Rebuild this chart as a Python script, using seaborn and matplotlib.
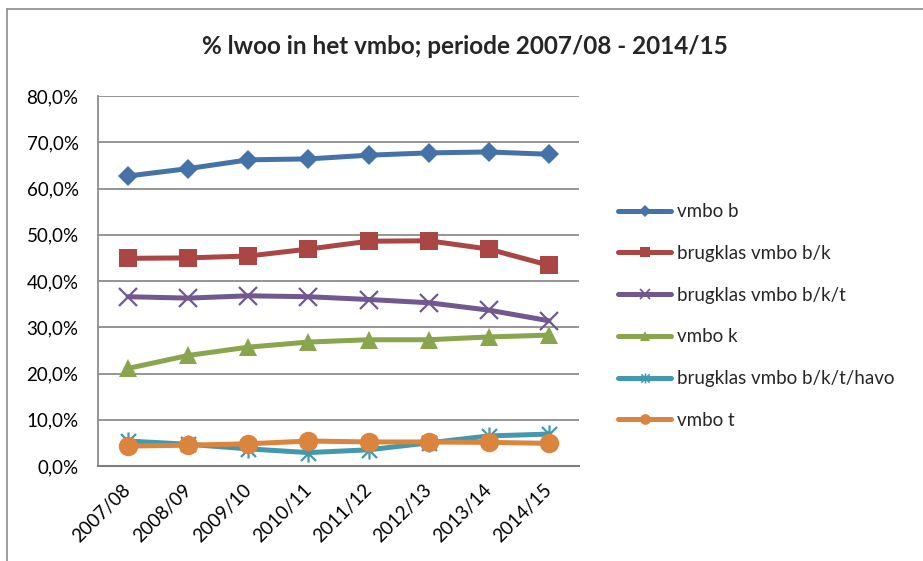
import matplotlib
matplotlib.use("Agg")
import matplotlib.pyplot as plt
from matplotlib.path import Path
from matplotlib.lines import Line2D
from matplotlib.ticker import FuncFormatter
import seaborn as sns
import pandas as pd

years = ["2007/08", "2008/09", "2009/10", "2010/11", "2011/12", "2012/13", "2013/14", "2014/15"]
vmbo_b = [62.7, 64.3, 66.2, 66.4, 67.2, 67.7, 67.9, 67.4]
brug_bk = [44.9, 45.0, 45.4, 46.9, 48.6, 48.7, 46.9, 43.4]
brug_bkt = [36.6, 36.3, 36.8, 36.6, 36.0, 35.3, 33.7, 31.4]
vmbo_k = [21.1, 23.9, 25.7, 26.8, 27.3, 27.3, 27.9, 28.3]
brug_bkth = [5.4, 4.7, 3.7, 2.9, 3.5, 5.0, 6.5, 6.9]
vmbo_t = [4.3, 4.5, 4.8, 5.4, 5.2, 5.2, 5.1, 4.9]
series_names = ["vmbo b", "brugklas vmbo b/k", "brugklas vmbo b/k/t", "vmbo k",
                "brugklas vmbo b/k/t/havo", "vmbo t"]
series_values = [vmbo_b, brug_bk, brug_bkt, vmbo_k, brug_bkth, vmbo_t]
y_ticks = [0, 10, 20, 30, 40, 50, 60, 70, 80]

colors = ["#4572A7", "#AA4643", "#71588F", "#89A54E", "#4198AF", "#DB843D"]
star = Path([(-1, -1), (1, 1), (-1, 1), (1, -1), (0, -1.2), (0, 1.2)],
            [Path.MOVETO, Path.LINETO, Path.MOVETO, Path.LINETO, Path.MOVETO, Path.LINETO])
markers = ["D", "s", "x", "^", star, "o"]
msizes = [10.5, 13.5, 13, 13.5, 13, 14]
edge_marker = [False, False, True, False, True, False]

sns.set_style("white")
plt.rcParams["font.family"] = ["Lato", "DejaVu Sans"]

fig = plt.figure(figsize=(9.23, 5.61), dpi=100)
ax = fig.add_axes([98 / 923, 1 - 466 / 561, (579 - 98) / 923, (466 - 96) / 561])

grid_col = "#8C8C8C"
for yv in y_ticks[1:]:
    ax.axhline(yv, color=grid_col, lw=1.3, zorder=0)

handles = []
for name, vals, col, mk, ms, em in zip(series_names, series_values, colors, markers, msizes, edge_marker):
    df = pd.DataFrame({"jaar": years, "pct": vals})
    kw = dict(marker=mk, markersize=ms)
    if em:
        kw.update(markeredgecolor=col, markeredgewidth=1.6, markerfacecolor="none")
    else:
        kw.update(markeredgewidth=0, markerfacecolor=col)
    sns.lineplot(data=df, x="jaar", y="pct", ax=ax, color=col, lw=3.6, sort=False,
                 solid_capstyle="round", solid_joinstyle="round", **kw)
    hkw = dict(marker=mk, markersize=ms * 0.55)
    if em:
        hkw.update(markeredgecolor=col, markeredgewidth=1.2, markerfacecolor="none")
    else:
        hkw.update(markeredgewidth=0, markerfacecolor=col)
    handles.append(Line2D([], [], color=col, lw=3.6, solid_capstyle="round", **hkw))

ax.set_xlim(-0.5, 7.5)
ax.set_ylim(0, 80)
ax.set_yticks(y_ticks)
ax.yaxis.set_major_formatter(FuncFormatter(lambda v, p: f"{v:.1f}".replace(".", ",") + "%"))
ax.set_xlabel("")
ax.set_ylabel("")
ax.tick_params(axis="y", length=0, pad=14, labelsize=13.5, colors="#000000")
ax.tick_params(axis="x", length=0, pad=15, labelsize=13.5, colors="#000000")
for lab in ax.get_xticklabels():
    lab.set_rotation(45)
    lab.set_ha("right")
    lab.set_va("center")
    lab.set_rotation_mode("anchor")

for s in ["top", "right"]:
    ax.spines[s].set_visible(False)
ax.spines["left"].set_color(grid_col)
ax.spines["left"].set_linewidth(1.3)
ax.spines["bottom"].set_color("#7F7F7F")
ax.spines["bottom"].set_linewidth(1.5)

fig.text(465 / 923, 1 - 47 / 561, "% lwoo in het vmbo; periode 2007/08 - 2014/15",
         ha="center", va="center", fontsize=17.5, fontweight="bold")

fig.legend(handles=handles, labels=series_names, loc="center left",
           bbox_to_anchor=(618 / 923, 1 - 316 / 561), frameon=False, fontsize=13.5,
           handlelength=2.85, handletextpad=0.3, labelspacing=1.32, borderpad=0,
           borderaxespad=0)

# outer chart border
fig.add_artist(Line2D([7.5 / 923, 7.5 / 923], [0, 1 - 8.5 / 561], color=grid_col, lw=1.2,
                      transform=fig.transFigure))
fig.add_artist(Line2D([7.5 / 923, 1], [1 - 8.5 / 561, 1 - 8.5 / 561], color=grid_col, lw=1.2,
                      transform=fig.transFigure))

fig.savefig("out.png", dpi=100)
